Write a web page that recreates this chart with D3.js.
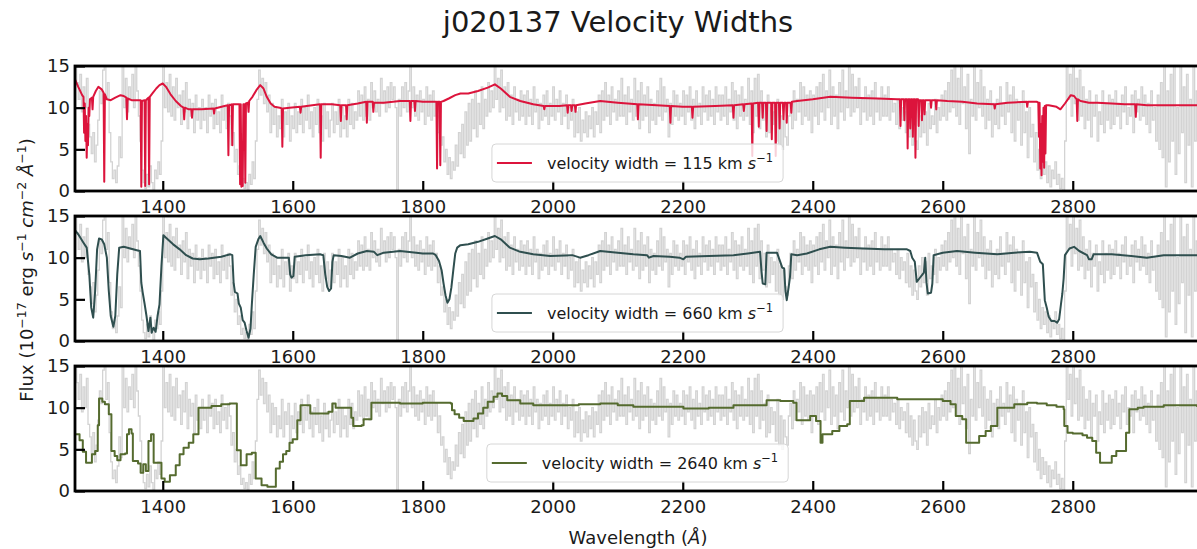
<!DOCTYPE html>
<html>
<head>
<meta charset="utf-8">
<script src="https://cdn.jsdelivr.net/npm/d3@7"></script>
<style>
  body { margin: 0; background: #fff; }
  svg { display: block; font-family: "DejaVu Sans", sans-serif; }
</style>
</head>
<body>
<svg id="chart" width="1197" height="549"></svg>
<script>
// ---- Observed spectrum (flux per 2.5 Å bin, starting at 1260 Å) ----
const obsStart = 1260;
const obsStep = 2.5;
const obsFlux = [
  14.5, 12.0, 15.5, 13.0, 11.0, 14.0, 9.5, 12.5, 10.0, 13.5, 8.0, 6.5, 4.5, 7.0, 3.5, 5.5, 8.5, 12.0, 10.5, 14.5,   // 1260
  15.5, 11.0, 13.0, 7.0, 3.5, 1.5, 2.5, 1.0, 3.0, 6.5, 4.0, 15.5, 10.0, 13.5, 9.5, 12.5, 11.0, 14.0, 10.0, 15.5,    // 1310
  12.0, 9.0, 6.0, 2.5, 1.0, 0.3, 2.0, 0.5, 3.0, 1.0, 0.2, 2.5, 1.5, 3.5, 2.0, 6.0, 15.5, 10.0, 13.0, 9.5,          // 1360
  14.0, 9.0, 12.5, 8.5, 13.5, 10.0, 11.5, 8.0, 12.0, 9.5, 13.0, 7.5, 11.0, 9.0, 10.5, 7.0, 11.5, 8.5, 10.0, 7.5,    // 1410
  11.0, 8.5, 10.0, 7.0, 11.5, 9.0, 10.5, 7.5, 11.0, 8.0, 9.5, 7.0, 11.5, 8.5, 10.0, 7.5, 10.5, 9.0, 5.5, 7.0,      // 1460
  3.5, 5.0, 2.0, 3.0, 0.8, 1.5, 0.3, 1.0, 0.2, 2.0, 0.8, 3.5, 1.5, 6.0, 11.0, 14.5, 11.5, 13.5, 10.5, 13.0,        // 1510
  9.5, 11.5, 7.0, 10.5, 8.0, 10.0, 6.5, 9.0, 7.5, 11.0, 6.5, 9.5, 8.0, 10.5, 6.0, 9.0, 7.5, 10.5, 7.0, 9.5,        // 1560
  8.0, 11.0, 7.0, 10.0, 8.5, 11.5, 7.5, 9.5, 6.5, 10.0, 8.0, 11.0, 7.0, 9.0, 6.0, 10.5, 7.5, 9.5, 6.5, 8.5,        // 1610
  10.5, 7.0, 9.5, 8.0, 11.0, 6.5, 10.0, 7.5, 9.0, 6.5, 11.0, 8.0, 10.5, 7.5, 9.5, 8.5, 12.0, 9.0, 11.5, 8.5,       // 1660
  12.5, 9.0, 11.0, 8.5, 13.0, 10.0, 12.0, 9.5, 11.0, 9.0, 13.5, 10.5, 12.0, 9.5, 12.5, 10.0, 13.0, 11.0, 12.5, 10.0, // 1710
  0.0, 11.0, 9.0, 12.5, 10.0, 13.0, 9.5, 12.0, 15.5, 10.0, 12.5, 9.0, 11.5, 8.5, 12.0, 9.5, 11.0, 8.0, 12.5, 9.0,   // 1760
  11.5, 8.5, 12.0, 9.0, 10.5, 7.0, 9.0, 5.5, 6.5, 3.5, 5.0, 2.0, 4.0, 1.5, 3.5, 2.5, 5.5, 3.0, 7.0, 4.5,           // 1810
  8.0, 4.0, 9.5, 5.5, 10.5, 6.0, 11.0, 7.5, 12.0, 6.5, 10.5, 8.0, 12.5, 7.5, 11.0, 9.0, 13.0, 9.5, 12.0, 10.0,     // 1860
  15.5, 11.0, 13.5, 9.5, 14.5, 10.0, 12.5, 8.5, 13.0, 9.0, 11.5, 8.0, 12.5, 9.5, 11.0, 8.5, 12.0, 9.0, 11.5, 8.0,   // 1910
  12.0, 9.0, 11.0, 8.0, 12.5, 9.5, 11.0, 7.5, 10.5, 8.5, 11.5, 9.0, 12.0, 8.0, 10.5, 9.0, 12.5, 8.5, 11.0, 9.5,    // 1960
  12.0, 8.0, 10.5, 9.0, 11.5, 7.5, 10.0, 8.5, 11.0, 6.5, 9.5, 7.0, 10.0, 6.0, 8.5, 7.0, 9.5, 6.5, 9.0, 7.5,        // 2010
  10.0, 6.5, 9.5, 8.0, 11.5, 7.0, 12.0, 8.5, 13.0, 9.0, 11.5, 8.0, 12.5, 9.5, 11.0, 8.5, 12.0, 9.0, 13.5, 9.0,     // 2060
  11.5, 8.0, 12.5, 9.5, 11.0, 8.5, 13.5, 9.0, 12.0, 7.5, 13.0, 8.5, 11.5, 9.0, 12.5, 7.0, 11.0, 8.5, 10.5, 8.0,    // 2110
  12.0, 9.0, 13.5, 8.5, 12.5, 9.5, 11.0, 6.5, 10.5, 8.0, 12.0, 9.0, 11.5, 8.5, 10.5, 9.0, 12.0, 8.0, 11.5, 9.5,    // 2160
  12.5, 8.5, 11.0, 7.5, 12.0, 9.0, 10.5, 8.0, 12.5, 9.5, 11.5, 8.5, 12.0, 9.0, 11.0, 8.0, 12.5, 9.5, 11.5, 8.5,    // 2210
  11.5, 9.0, 12.5, 8.0, 11.0, 9.5, 13.0, 8.5, 12.0, 7.5, 11.5, 9.0, 12.5, 8.5, 11.0, 9.0, 13.5, 8.0, 12.0, 7.0,    // 2260
  13.5, 9.0, 14.0, 7.5, 12.0, 8.5, 10.5, 6.5, 11.5, 7.0, 10.0, 8.0, 9.5, 6.0, 11.0, 5.5, 9.0, 5.0, 8.5, 6.5,       // 2310
  5.5, 9.0, 10.5, 7.5, 12.0, 8.5, 11.0, 9.5, 13.0, 8.0, 12.5, 9.0, 11.5, 8.5, 12.0, 7.0, 11.5, 9.0, 12.5, 8.0,     // 2360
  13.0, 9.5, 14.0, 8.5, 12.0, 10.0, 14.5, 8.0, 12.5, 9.0, 11.5, 7.5, 13.0, 9.5, 14.5, 8.5, 12.0, 10.0, 15.0, 9.0,  // 2410
  14.0, 9.5, 12.5, 10.0, 13.5, 8.0, 11.0, 9.5, 12.5, 8.5, 11.5, 9.0, 12.0, 8.0, 13.0, 9.5, 11.0, 8.5, 12.5, 9.0,   // 2460
  11.5, 9.0, 12.5, 8.5, 11.0, 9.5, 10.5, 8.0, 11.0, 7.5, 10.0, 8.5, 9.5, 7.0, 10.5, 6.5, 9.0, 5.5, 8.5, 6.0,       // 2510
  5.0, 9.0, 6.5, 10.0, 7.0, 9.5, 5.5, 10.5, 7.5, 9.0, 8.0, 11.0, 7.0, 10.0, 8.5, 11.5, 9.0, 12.0, 8.5, 13.0,       // 2560
  9.5, 14.5, 10.0, 15.5, 9.0, 13.5, 8.0, 15.5, 10.5, 12.5, 7.5, 14.0, 4.5, 11.0, 9.0, 15.5, 8.5, 13.0, 10.0, 14.5, // 2610
  9.0, 12.5, 7.5, 11.0, 8.5, 12.0, 6.5, 10.5, 8.0, 11.0, 7.5, 12.5, 9.0, 10.5, 8.0, 13.0, 9.5, 11.5, 7.0, 12.5,    // 2660
  6.0, 11.0, 8.5, 10.5, 5.5, 12.0, 7.0, 9.5, 4.0, 10.0, 6.5, 8.0, 3.5, 7.0, 2.5, 5.0, 1.5, 4.0, 2.0, 3.5,          // 2710
  1.0, 3.0, 0.5, 2.5, 1.5, 3.5, 0.8, 2.0, 0.3, 1.5, 0.0, 6.0, 15.5, 11.0, 14.0, 9.0, 15.5, 10.5, 13.5, 8.5,        // 2760
  14.5, 9.0, 12.5, 7.5, 11.0, 8.5, 12.0, 6.5, 10.5, 9.0, 11.5, 6.0, 9.5, 8.0, 12.0, 7.0, 10.5, 8.5, 11.5, 7.5,     // 2810
  11.0, 8.0, 12.0, 9.0, 10.5, 7.5, 11.5, 9.5, 12.5, 8.0, 10.0, 9.0, 11.5, 7.0, 12.0, 9.5, 11.0, 8.5, 12.5, 9.0,    // 2860
  11.5, 8.0, 10.5, 7.0, 12.0, 8.5, 10.0, 6.0, 11.5, 5.0, 13.0, 4.0, 15.5, 0.5, 12.0, 3.5, 14.0, 6.0, 15.5, 2.0,    // 2910
  10.0, 4.5, 15.5, 7.0, 12.5, 1.0, 14.0, 5.5, 11.0, 0.5, 15.5, 6.0, 12.0, 3.0, 14.5, 7.5, 10.5, 2.5, 13.5, 8.0,    // 2960
  9.0                                                                                                              // 3010
];

// ---- Model, velocity width = 115 km/s ----
const model115Wave = [1265,1270,1276,1278,1279,1280,1281,1282,1283,1284,1285,1286,1287,1288,1291,1292,1293,1297,1301,1306,1309,1310,1311,1314,1320,1327,1335,1340,1344,1345,1346,1352,1360,1366,1367,1368,1372,1373,1374,1378,1379,1380,1385,1390,1395,1400,1405,1412,1420,1428,1432,1433,1434,1440,1444,1445,1446,1460,1478,1479,1480,1495,1500,1501,1502,1506,1507,1508,1512,1518,1519,1520,1521,1522,1523,1524,1526,1527,1528,1531,1532,1533,1538,1544,1550,1555,1560,1566,1572,1580,1583,1584,1585,1595,1611,1612,1613,1630,1642,1643,1644,1660,1673,1674,1675,1682,1683,1684,1700,1713,1714,1715,1723,1724,1725,1740,1765,1780,1781,1782,1787,1788,1789,1800,1821,1822,1823,1826,1827,1828,1832,1840,1850,1858,1870,1885,1900,1911,1920,1934,1950,1970,1986,1987,1988,2010,2022,2023,2024,2028,2029,2030,2034,2035,2036,2050,2073,2100,2130,2131,2132,2160,2180,2181,2182,2200,2214,2215,2216,2250,2277,2278,2279,2293,2294,2295,2306,2307,2308,2316,2317,2318,2322,2323,2324,2328,2329,2330,2336,2337,2338,2342,2343,2344,2348,2349,2350,2354,2355,2356,2359,2360,2361,2366,2367,2368,2376,2400,2427,2460,2500,2530,2534,2535,2536,2540,2541,2542,2545,2546,2547,2549,2550,2551,2553,2554,2555,2557,2558,2559,2562,2563,2564,2567,2568,2569,2571,2572,2573,2581,2582,2583,2589,2590,2591,2607,2630,2653,2679,2680,2681,2700,2729,2730,2731,2745,2747,2748,2749,2750,2751,2752,2753,2754,2755,2756,2757,2758,2759,2763,2775,2781,2788,2797,2802,2806,2807,2808,2812,2825,2838,2860,2880,2896,2897,2898,2914,2940,2970,3010];
const model115Flux = [13.4,12.5,11.5,11.3,7.0,10.5,6.0,9.0,4.0,8.0,5.5,10.0,9.0,11.0,11.2,9.8,11.3,12.0,12.5,12.2,11.8,1.1,11.6,11.0,10.9,11.2,11.5,11.4,11.2,8.6,11.1,10.9,10.9,10.9,0.5,10.8,10.9,0.6,10.9,11.2,0.8,11.3,11.8,12.3,12.7,12.9,12.5,11.6,10.8,10.2,10.0,8.6,10.0,9.8,9.8,8.8,9.8,9.8,9.9,9.3,9.9,10.2,10.3,4.3,10.3,10.4,5.5,10.4,10.4,10.4,0.8,10.4,0.5,5.0,0.6,10.4,10.4,1.0,10.5,10.6,9.5,10.8,11.3,12.1,12.7,12.3,11.3,10.5,10.1,10.0,9.9,5.3,9.9,10.0,10.1,9.4,10.1,10.3,10.4,4.0,10.4,10.4,10.3,8.4,10.3,10.3,8.6,10.3,10.5,10.7,8.2,10.7,10.7,9.5,10.6,10.6,10.8,10.8,8.4,10.8,10.8,9.6,10.8,10.7,10.7,2.7,10.7,10.7,3.1,10.7,10.8,11.1,11.5,11.7,11.7,12.0,12.4,12.8,12.3,11.3,10.8,10.4,10.2,9.8,10.2,10.2,10.3,9.4,10.3,10.3,9.6,10.3,10.3,9.5,10.3,10.5,10.8,10.6,10.4,8.6,10.4,10.3,10.2,8.2,10.2,10.1,10.1,8.8,10.1,10.2,10.3,8.8,10.3,10.4,9.6,10.4,10.5,4.2,10.5,10.6,7.7,10.6,10.6,8.8,10.6,10.6,7.2,10.6,10.6,6.2,10.6,10.6,4.2,10.6,10.6,7.5,10.6,10.6,8.6,10.6,10.6,8.2,10.6,10.6,9.4,10.7,10.8,11.0,11.3,11.2,11.1,11.0,11.0,7.8,11.0,11.0,8.5,11.0,11.0,5.1,11.0,11.0,7.5,11.0,11.0,6.5,11.0,11.0,4.0,11.0,11.0,7.8,10.9,10.9,8.5,10.9,10.9,9.2,10.9,10.9,10.0,10.9,10.9,9.8,10.9,10.8,10.7,10.5,10.4,9.9,10.4,10.6,10.7,10.1,10.7,10.7,10.6,6.5,10.6,2.7,8.0,1.9,9.0,3.5,10.0,2.8,10.2,4.5,10.3,10.3,10.1,9.8,10.5,11.5,11.4,11.0,8.4,11.0,10.8,10.6,10.6,10.5,10.4,10.4,8.9,10.4,10.3,10.3,10.3,10.3];

// ---- Model, velocity width = 660 km/s ----
const model660Wave = [1265,1270,1278,1283,1287,1290,1293,1296,1299,1302,1306,1310,1314,1317,1320,1324,1327,1330,1333,1340,1350,1360,1365,1367,1369,1372,1375,1378,1381,1383,1386,1389,1392,1395,1398,1401,1405,1416,1426,1436,1446,1457,1470,1490,1504,1507,1509,1511,1515,1517,1520,1523,1526,1529,1532,1535,1537,1540,1543,1547,1550,1555,1560,1567,1576,1594,1596,1598,1601,1603,1620,1642,1647,1650,1653,1656,1659,1661,1663,1675,1688,1700,1714,1725,1730,1740,1765,1790,1800,1816,1820,1825,1829,1832,1835,1838,1841,1844,1847,1850,1853,1858,1870,1885,1900,1911,1920,1934,1950,1970,1996,2030,2042,2055,2073,2100,2124,2145,2148,2155,2180,2195,2201,2205,2240,2278,2300,2319,2321,2323,2327,2329,2345,2350,2353,2356,2358,2360,2363,2365,2367,2376,2391,2410,2427,2450,2478,2510,2545,2550,2553,2557,2560,2564,2568,2571,2573,2575,2577,2582,2584,2586,2600,2622,2650,2684,2710,2734,2745,2750,2754,2757,2760,2763,2767,2772,2776,2779,2782,2784,2786,2788,2795,2802,2810,2822,2825,2829,2832,2860,2890,2914,2940,2970,3010];
const model660Flux = [13.3,12.8,11.8,11.2,8.0,4.0,2.8,6.0,11.0,12.3,12.2,11.6,10.0,6.0,3.0,1.7,3.0,8.0,11.2,11.3,11.1,10.9,10.8,7.0,5.9,4.5,3.0,1.2,2.8,1.0,1.6,1.1,3.0,4.4,9.0,12.7,12.4,11.6,11.0,10.3,9.9,9.8,9.9,10.1,10.4,10.3,7.0,5.9,5.7,4.5,4.0,2.5,2.2,1.2,0.4,1.5,4.3,8.0,11.3,12.2,12.6,11.8,11.1,10.4,10.0,10.0,8.0,7.6,7.8,10.1,10.3,10.4,10.3,8.0,6.5,6.0,6.3,9.5,10.3,10.2,10.0,10.5,10.8,10.7,10.3,10.6,10.8,10.6,10.5,10.5,10.3,9.6,8.5,6.9,5.5,4.6,5.0,6.4,8.5,10.5,11.2,11.5,11.6,11.9,12.3,12.6,12.2,11.2,10.7,10.4,10.2,10.3,10.0,10.3,10.8,10.6,10.4,10.3,10.0,10.2,10.1,10.0,9.8,10.1,10.2,10.3,10.5,10.7,8.5,6.9,6.8,10.6,10.6,9.5,8.8,8.7,6.0,4.9,6.5,7.7,10.4,10.3,10.5,11.0,11.3,11.2,11.1,11.0,11.0,10.8,10.0,9.5,7.1,7.5,7.9,8.2,10.0,7.0,5.7,5.8,6.9,10.3,10.6,10.8,10.6,10.4,10.6,10.7,10.6,9.5,9.2,4.9,4.0,2.9,2.4,2.4,2.2,2.6,4.5,5.7,7.5,10.3,11.1,11.3,10.8,10.3,9.8,9.8,10.4,10.4,10.2,10.0,10.3,10.3,10.3];

// ---- Model, velocity width = 2640 km/s (binned, drawn as steps) ----
const model2640Wave = [1265,1272,1277,1282,1291,1296,1300,1302,1307,1311,1317,1321,1326,1330,1335,1342,1345,1348,1352,1354,1362,1366,1370,1374,1378,1382,1386,1398,1403,1411,1420,1426,1432,1440,1447,1455,1475,1490,1503,1514,1520,1529,1537,1543,1552,1561,1574,1580,1585,1590,1595,1600,1607,1612,1627,1655,1661,1666,1690,1693,1706,1709,1721,1765,1800,1843,1845,1849,1856,1863,1878,1885,1893,1900,1909,1915,1922,1930,1950,1970,2040,2073,2100,2124,2201,2240,2278,2329,2350,2370,2375,2396,2405,2412,2415,2430,2441,2453,2457,2479,2530,2600,2612,2620,2630,2636,2656,2666,2674,2684,2710,2730,2745,2760,2775,2786,2787,2792,2800,2815,2822,2830,2836,2842,2860,2867,2882,2887,2900,2909,2940,2991,3010];
const model2640Flux = [6.8,6.1,4.7,3.4,4.4,4.8,7.9,11.1,10.7,10.4,9.2,4.8,4.2,3.7,4.4,4.5,6.8,7.4,6.9,3.6,3.3,2.2,3.2,2.4,6.0,6.8,3.4,1.5,1.1,1.9,3.1,4.4,5.2,5.8,6.8,10.0,10.2,10.4,10.5,4.9,3.1,4.4,4.6,1.5,0.7,0.5,2.7,3.5,4.4,4.8,5.8,6.2,8.5,10.3,9.3,9.5,10.5,10.0,8.8,7.8,7.9,8.6,10.6,10.5,10.6,10.5,9.7,9.2,8.8,8.4,8.7,9.3,10.0,10.7,11.3,11.7,11.4,10.9,10.5,10.3,10.4,10.5,10.3,10.1,9.9,10.0,10.3,10.9,10.8,10.6,8.5,9.0,8.4,5.8,6.8,7.2,7.8,8.0,10.8,11.2,11.0,10.8,10.4,9.0,8.6,5.8,6.6,7.2,7.8,10.0,10.4,10.6,10.5,10.3,10.1,9.8,7.8,7.0,6.9,6.7,6.4,6.0,4.6,3.4,4.2,4.8,7.0,9.8,10.0,10.1,10.3,10.2,10.2];

const legendWidths = ["115", "660", "2640"];
const modelColors = ["#dc143c", "#2f4f4f", "#556b2f"];
const xTicks = [1400, 1600, 1800, 2000, 2200, 2400, 2600, 2800];
const yTicks = [0, 5, 10, 15];

// ---- Layout ----
const svg = d3.select("#chart");
const panelTops = [66, 216, 366];
const panelH = 125;
const x = d3.scaleLinear().domain([1265, 3010]).range([75, 1209.25]);

const obs = obsFlux.map((f, i) => ({ w: obsStart + i * obsStep, f }));
const models = [
  model115Wave.map((w, i) => ({ w, f: model115Flux[i] })),
  model660Wave.map((w, i) => ({ w, f: model660Flux[i] })),
  model2640Wave.map((w, i) => ({ w, f: model2640Flux[i] }))
];
const curves = [d3.curveLinear, d3.curveLinear, d3.curveStepAfter];

// Title
svg.append("text")
  .attr("x", 618).attr("y", 32)
  .attr("text-anchor", "middle")
  .attr("font-size", 29).attr("fill", "#1a1a1a")
  .text("j020137 Velocity Widths");

panelTops.forEach((top, p) => {
  const y = d3.scaleLinear().domain([0, 15]).range([top + panelH, top]);
  const g = svg.append("g");

  const clipId = "clip" + p;
  svg.append("clipPath").attr("id", clipId)
    .append("rect")
    .attr("x", x.range()[0]).attr("y", top)
    .attr("width", x.range()[1] - x.range()[0]).attr("height", panelH);

  const plot = g.append("g").attr("clip-path", `url(#${clipId})`);

  plot.append("path")
    .datum(obs)
    .attr("fill", "none")
    .attr("stroke", "#d3d3d3")
    .attr("stroke-width", 1.3)
    .attr("d", d3.line().x(d => x(d.w)).y(d => y(d.f)).curve(d3.curveStepAfter));

  plot.append("path")
    .datum(models[p])
    .attr("fill", "none")
    .attr("stroke", modelColors[p])
    .attr("stroke-width", 2)
    .attr("stroke-linejoin", "round")
    .attr("d", d3.line().x(d => x(d.w)).y(d => y(d.f)).curve(curves[p]));

  // Axes with inward ticks
  const xa = g.append("g")
    .attr("transform", `translate(0,${top + panelH})`)
    .call(d3.axisBottom(x).tickValues(xTicks).tickFormat(d3.format("d"))
      .tickSizeInner(-10).tickSizeOuter(0).tickPadding(9));
  const ya = g.append("g")
    .attr("transform", `translate(${x.range()[0]},0)`)
    .call(d3.axisLeft(y).tickValues(yTicks).tickFormat(d3.format("d"))
      .tickSizeInner(-10).tickSizeOuter(0).tickPadding(5));
  [xa, ya].forEach(a => {
    a.select(".domain").remove();
    a.selectAll(".tick line").attr("stroke", "#000").attr("stroke-width", 2.2);
    a.selectAll(".tick text").attr("font-size", 18).attr("fill", "#1a1a1a")
      .attr("font-family", "DejaVu Sans, sans-serif");
  });

  // Frame
  g.append("rect")
    .attr("x", x.range()[0]).attr("y", top)
    .attr("width", x.range()[1] - x.range()[0]).attr("height", panelH)
    .attr("fill", "none").attr("stroke", "#000").attr("stroke-width", 2.8);

  // Legend
  const lg = g.append("g");
  const box = lg.append("rect")
    .attr("rx", 4).attr("ry", 4)
    .attr("fill", "#fff").attr("fill-opacity", 0.8)
    .attr("stroke", "#d6d6d6").attr("stroke-width", 1);
  const sample = lg.append("line")
    .attr("stroke", modelColors[p]).attr("stroke-width", 2);
  const txt = lg.append("text")
    .attr("font-size", 16).attr("fill", "#1a1a1a");
  txt.append("tspan").text(`velocity width = ${legendWidths[p]} km `);
  txt.append("tspan").attr("font-style", "italic").text("s");
  txt.append("tspan").attr("font-size", 11.5).attr("dy", -7).text("\u22121");

  const tw = txt.node().getComputedTextLength();
  const boxW = 55 + tw + 10;
  const boxH = 38;
  const cx = 637.5;
  const bx = cx - boxW / 2;
  const by = top + panelH - 9 - boxH;
  box.attr("x", bx).attr("y", by).attr("width", boxW).attr("height", boxH);
  sample.attr("x1", bx + 5).attr("x2", bx + 40)
    .attr("y1", by + boxH / 2).attr("y2", by + boxH / 2);
  txt.attr("x", bx + 55).attr("y", by + boxH / 2 + 6);
});

// X label
const xl = svg.append("text")
  .attr("x", 638).attr("y", 544)
  .attr("text-anchor", "middle")
  .attr("font-size", 18).attr("fill", "#1a1a1a");
xl.append("tspan").text("Wavelength (");
xl.append("tspan").attr("font-style", "italic").text("\u00c5");
xl.append("tspan").text(")");

// Y label
const yl = svg.append("text")
  .attr("transform", "translate(33,270) rotate(-90)")
  .attr("text-anchor", "middle")
  .attr("font-size", 18).attr("fill", "#1a1a1a");
yl.append("tspan").text("Flux (10");
yl.append("tspan").attr("font-size", 12.5).attr("dy", -7).text("\u221217");
yl.append("tspan").attr("dy", 7).text(" erg ");
yl.append("tspan").attr("font-style", "italic").text("s");
yl.append("tspan").attr("font-size", 12.5).attr("dy", -7).text("\u22121");
yl.append("tspan").attr("dy", 7).text(" ");
yl.append("tspan").attr("font-style", "italic").text("cm");
yl.append("tspan").attr("font-size", 12.5).attr("dy", -7).text("\u22122");
yl.append("tspan").attr("dy", 7).text(" ");
yl.append("tspan").attr("font-style", "italic").text("\u00c5");
yl.append("tspan").attr("font-size", 12.5).attr("dy", -7).text("\u22121");
yl.append("tspan").attr("dy", 7).text(")");
</script>
</body>
</html>
